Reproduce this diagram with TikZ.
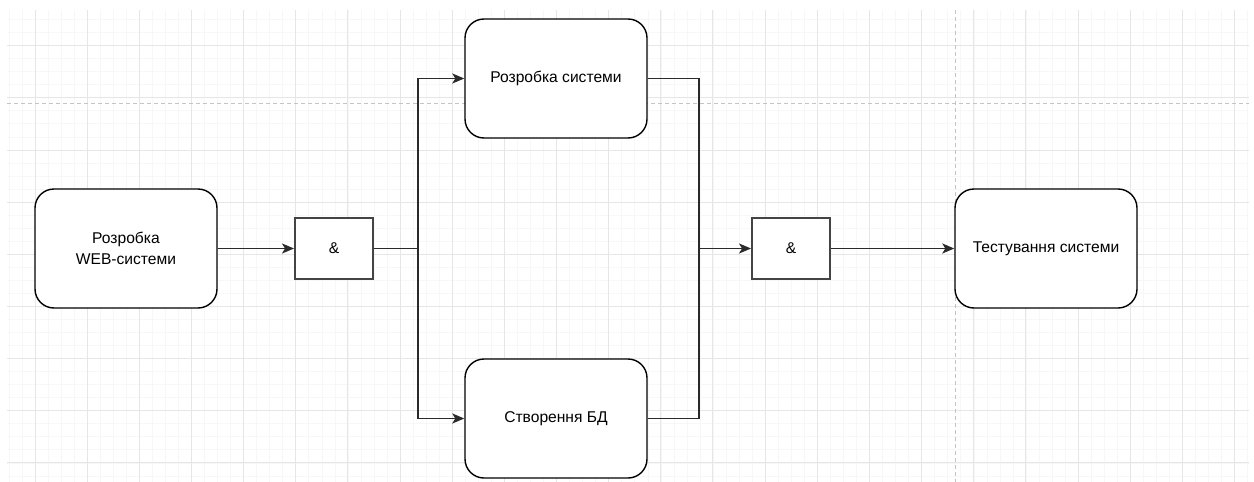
\documentclass[tikz,border=0pt]{standalone}
\usepackage{fontspec}
\setmainfont{Liberation Sans}
\usetikzlibrary{arrows.meta}
\definecolor{gridminor}{HTML}{F7F7F7}
\definecolor{gridmajor}{HTML}{E6E6E6}
\definecolor{pagebreak}{HTML}{C4C4C4}
\definecolor{edgecol}{HTML}{2A2A2A}
\definecolor{andcol}{HTML}{444444}
\tikzset{
  procbox/.style={draw=black, line width=1.4pt, rounded corners=19pt, fill=white,
    minimum width=182pt, minimum height=119pt, align=center, inner sep=2pt,
    font=\fontsize{15.6}{20.5}\selectfont},
  andbox/.style={draw=andcol, line width=1.9pt, fill=white,
    minimum width=78pt, minimum height=61pt, font=\fontsize{15.6}{18.5}\selectfont},
  conn/.style={draw=edgecol, line width=1.8pt, -{Stealth[length=12pt,width=10pt,inset=3pt]}},
  connplain/.style={draw=edgecol, line width=1.8pt},
}
\begin{document}
\begin{tikzpicture}[x=1pt,y=-1pt]
\useasboundingbox (0,0) rectangle (1254,482);
\fill[white] (0,0) rectangle (1254,482);
% grid
\begin{scope}
\clip (7,10) rectangle (1249,482);
\foreach \i in {0,...,95} {
  \draw[gridminor, line width=0.9pt] ({9+13.04*\i},10) -- ({9+13.04*\i},482);
}
\foreach \j in {0,...,36} {
  \draw[gridminor, line width=0.9pt] (7,{19.6+13.04*\j}) -- (1249,{19.6+13.04*\j});
}
\foreach \i in {0,...,23} {
  \draw[gridmajor, line width=1pt] ({35+52.15*\i},10) -- ({35+52.15*\i},482);
}
\foreach \j in {0,...,8} {
  \draw[gridmajor, line width=1pt] (7,{45.7+52.15*\j}) -- (1249,{45.7+52.15*\j});
}
\draw[pagebreak, line width=0.9pt, dash pattern=on 4pt off 3pt] (7,103.3) -- (1249,103.3);
\draw[pagebreak, line width=0.9pt, dash pattern=on 4pt off 3pt] (955,10) -- (955,482);
\end{scope}
% nodes
\node[procbox] (web) at (126,248.5) {Розробка\\WEB-системи};
\node[andbox] (and1) at (334,248.5) {\&};
\node[procbox] (sys) at (556,78.5) {Розробка системи};
\node[procbox] (db) at (556,418.5) {Створення БД};
\node[andbox] (and2) at (791,248.5) {\&};
\node[procbox] (test) at (1046,248.5) {Тестування системи};
\coordinate (split) at (418,248.5);
\coordinate (merge) at (699,248.5);
% connectors
\draw[conn] (web.east) -- (and1.west);
\draw[conn] (and1.east) -- (split) |- (sys.west);
\draw[conn] (and1.east) -- (split) |- (db.west);
\draw[connplain] (sys.east) -| (merge);
\draw[connplain] (db.east) -| (merge);
\draw[conn] (merge) -- (and2.west);
\draw[conn] (and2.east) -- (test.west);
\end{tikzpicture}
\end{document}
